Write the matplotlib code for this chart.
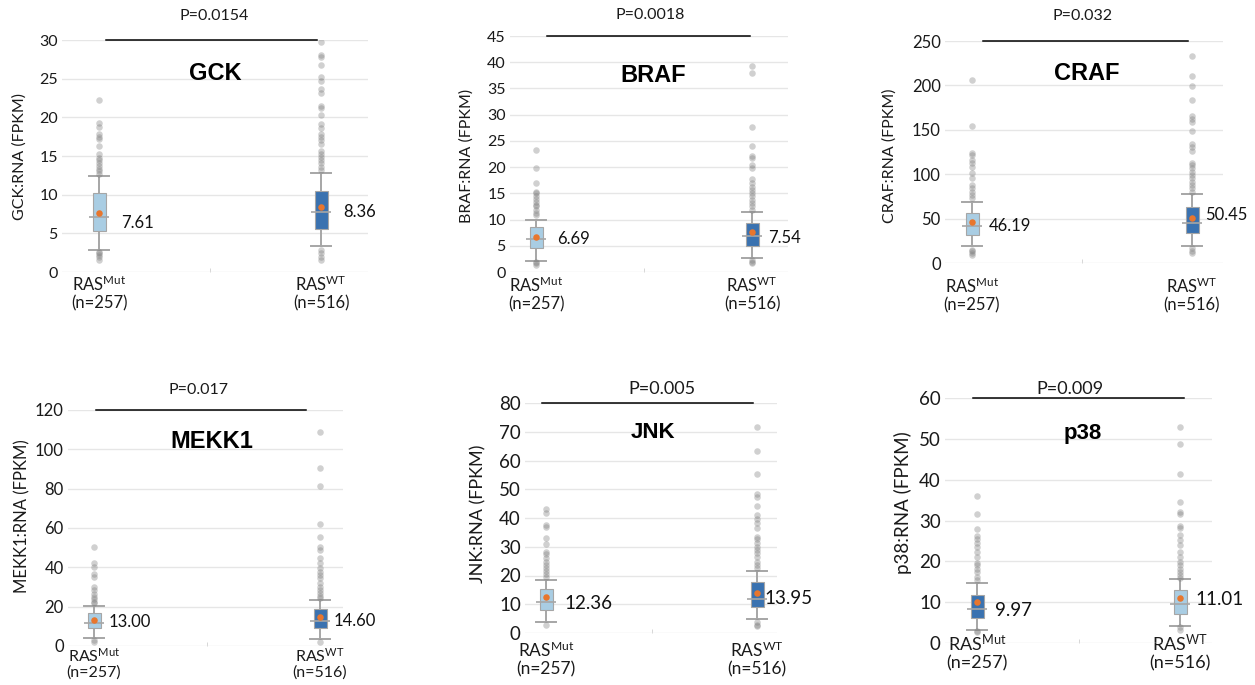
import matplotlib
matplotlib.use("Agg")
import matplotlib.pyplot as plt

plt.rcParams['font.family'] = ['Lato', 'DejaVu Sans']
plt.rcParams['mathtext.fontset'] = 'custom'
plt.rcParams['mathtext.rm'] = 'Lato'
plt.rcParams['mathtext.default'] = 'regular'

# chart data
genes = ['GCK', 'BRAF', 'CRAF', 'MEKK1', 'JNK', 'p38']
p_values = ['P=0.0154', 'P=0.0018', 'P=0.032', 'P=0.017', 'P=0.005', 'P=0.009']
groups = ['RAS$^{Mut}$\n(n=257)', 'RAS$^{WT}$\n(n=516)']
y_max = [30, 45, 250, 120, 80, 60]
y_step = [5, 5, 50, 20, 10, 10]

# [Mut, WT] per gene
means = [[7.61, 8.36], [6.69, 7.54], [46.19, 50.45], [13.00, 14.60], [12.36, 13.95], [9.97, 11.01]]
q1 = [[5.3, 5.6], [4.5, 5.0], [31.4, 33.7], [9.0, 9.0], [8.1, 8.9], [6.2, 7.2]]
medians = [[7.1, 7.8], [6.2, 6.9], [41.9, 44.9], [11.5, 12.7], [10.7, 11.8], [8.4, 9.5]]
q3 = [[10.2, 10.5], [8.65, 9.3], [56.0, 62.9], [16.6, 18.6], [15.4, 17.6], [11.7, 12.9]]
whis_lo = [[2.9, 3.3], [2.1, 2.7], [18.7, 18.7], [4.2, 3.4], [4.0, 4.8], [3.3, 4.1]]
whis_hi = [[12.4, 12.8], [9.9, 11.5], [68.5, 77.8], [20.3, 23.4], [18.5, 21.4], [14.6, 15.6]]

fliers_mut = [
    [22.3, 19.3, 18.7, 17.8, 17.4, 17.2, 16.3, 15.3, 14.8, 14.5, 14.1, 13.7, 13.3, 13.0, 12.7,
     2.6, 2.4, 2.2, 1.9, 1.6],
    [23.3, 19.8, 16.9, 15.3, 15.0, 14.5, 14.0, 13.4, 12.8, 12.5, 11.8, 11.2, 10.9,
     1.9, 1.65, 1.3],
    [205.8, 154.2, 124.3, 121.6, 116, 112.3, 108.5, 101, 95.4, 88, 84.2, 80.5, 76.7, 73,
     15, 13, 11.2, 9.4],
    [50.5, 42.4, 40.3, 36.6, 35.3, 30.2, 28.5, 26.4, 25.1, 23.7, 22.5, 21.7, 3.1, 2.2],
    [43.3, 41.6, 37.5, 37.0, 33.1, 30.9, 28.3, 27.5, 26.0, 24.8, 23.7, 22.5, 21.4, 20.6, 19.6, 2.9],
    [36.1, 31.6, 27.9, 26.3, 25.4, 24.4, 23.6, 22.3, 21.1, 19.6, 19.1, 18.2, 17.4, 16.2, 15.5,
     2.9, 2.6],
]
fliers_wt = [
    [29.8, 28.1, 27.8, 26.8, 25.2, 24.7, 23.6, 23.1, 21.5, 21.2, 20.3, 19.2, 18.6, 17.9, 17.5,
     17.1, 16.6, 15.6, 15.3, 14.9, 14.5, 14.1, 13.6, 13.2, 2.8, 2.4, 2.0, 1.6],
    [39.3, 38.0, 27.7, 24.1, 22.2, 21.8, 20.4, 19.9, 17.7, 16.9, 16.3, 15.6, 15.0, 14.4, 13.7,
     13.1, 12.5, 11.8, 2.3, 2.0, 1.65],
    [233, 210.7, 199.5, 183.4, 165.4, 162, 159, 148.6, 133.6, 130.2, 126.5, 113, 110.4, 106.7,
     102.9, 99.2, 95.4, 91.7, 88, 84.2, 80.5, 16.8, 13.1, 11.2],
    [109, 90.5, 81.5, 61.9, 55.3, 50.5, 48.8, 44.6, 42, 39.5, 37.8, 36.1, 34.4, 31.9, 30.2,
     28.5, 27.1, 25.4, 24.2, 2.2],
    [71.8, 63.2, 55.2, 48.3, 47.3, 44.1, 41.0, 39.8, 38.1, 36.4, 33.5, 32.6, 31.2, 30.0, 28.9,
     27.7, 26.3, 24.8, 23.7, 22.5, 4.0, 2.9, 2.3],
    [53, 48.7, 41.3, 34.5, 32.2, 31.6, 28.6, 28.1, 26.4, 25.2, 24.0, 22.3, 21.1, 19.9, 19.1,
     18.2, 17.4, 16.6, 16.0, 3.8, 3.3],
]

# layout (pixels in the 1255x685 canvas)
W, H = 1255, 685
ax_px = [(62, 368, 40, 272), (510, 788, 36, 272), (945, 1223, 41, 263),
         (68, 343, 410, 646), (525, 777, 403, 633), (945, 1212, 398, 643)]
box_px = [(99, 321), (536, 752), (972, 1192), (94, 320), (546, 757), (977, 1180)]
ylab_px = [(20, 156), (467, 156), (890, 156), (22, 516), (478, 514), (903, 503)]
title_px = [(215, 73), (653, 75), (1087, 74), (212, 442), (653, 433), (1083, 433)]
ptext_px = [(214, 16), (650, 15), (1083, 16), (199, 390), (662, 389), (1070, 389)]
pline_x = [(0.03, 0.98), (0.05, 0.99), (0.05, 0.98), (0.01, 0.94), (-0.02, 0.98), (-0.02, 1.02)]
label_y = [[6.55, 7.9], [6.5, 6.7], [43, 56], [13.2, 13.6], [10.7, 12.4], [8.4, 11.0]]
label_dx = [[22, 22], [21, 16], [17, 13], [15, 14], [18, 7], [18, 15]]
cat_pad = [3, 4, 14, 1, 8, -10]
tick_fs = [11.5, 11.5, 12, 12, 13.5, 13.5]
cat_fs = [12, 12, 12, 11.5, 12.5, 13]
ylab_fs = [11.5, 11.5, 11.5, 12, 13, 13.5]
val_fs = [12, 12, 12, 12, 13.5, 13.5]
p_fs = [11.5, 11.5, 11.5, 11.5, 13, 13]
title_fs = [17, 17, 17, 17, 16, 16]

light = '#a9cde3'
dark = '#3a72b0'
box_colors = [[light, dark]] * 5 + [[dark, light]]
edge = '#a6a6a6'

fig = plt.figure(figsize=(W / 100, H / 100), dpi=100)

for i, gene in enumerate(genes):
    L, R, T, B = ax_px[i]
    c1, c2 = box_px[i]
    unit = c2 - c1
    ax = fig.add_axes([L / W, 1 - B / H, (R - L) / W, (B - T) / H])
    ax.set_xlim((L - c1) / unit, (R - c1) / unit)
    ax.set_ylim(0, y_max[i])

    stats = []
    for g in range(2):
        stats.append(dict(med=medians[i][g], q1=q1[i][g], q3=q3[i][g],
                          whislo=whis_lo[i][g], whishi=whis_hi[i][g], fliers=[]))
    bw = 13 / unit
    cw = 20 / unit
    bp = ax.bxp(stats, positions=[0, 1], widths=bw, capwidths=cw, patch_artist=True,
                showfliers=False,
                boxprops=dict(edgecolor=edge, linewidth=0.8),
                whiskerprops=dict(color=edge, linewidth=1.4),
                capprops=dict(color=edge, linewidth=1.4),
                medianprops=dict(linewidth=0))
    for patch, col in zip(bp['boxes'], box_colors[i]):
        patch.set_facecolor(col)
        patch.set_zorder(3)
    for g in range(2):
        ax.hlines(medians[i][g], g - cw / 2, g + cw / 2, color=edge, lw=1.2, zorder=4)

    # outliers
    ax.scatter([0] * len(fliers_mut[i]), fliers_mut[i], s=22, color='#7a7a7a', alpha=0.35,
               linewidths=0, zorder=2)
    ax.scatter([1] * len(fliers_wt[i]), fliers_wt[i], s=22, color='#7a7a7a', alpha=0.35,
               linewidths=0, zorder=2)

    # means
    ax.scatter([0, 1], means[i], s=22, color='#e8762d', zorder=5, linewidths=0)
    for g in range(2):
        ax.annotate('%.2f' % means[i][g], xy=(g, label_y[i][g]),
                    xytext=(label_dx[i][g] * 0.72, 0), textcoords='offset points',
                    ha='left', va='center_baseline', fontsize=val_fs[i], color='#111111')

    # significance line
    ax.plot(pline_x[i], [y_max[i], y_max[i]], color='black', lw=1.1, clip_on=False, zorder=6)

    ax.set_yticks(range(0, y_max[i] + 1, y_step[i]))
    ax.yaxis.grid(True, color='#e6e6e6', lw=1)
    ax.set_axisbelow(True)
    ax.set_xticks([0, 1])
    ax.set_xticklabels(groups, fontsize=cat_fs[i], linespacing=1.05)
    ax.set_xticks([0.5], minor=True)
    ax.tick_params(axis='x', which='major', length=0, pad=cat_pad[i] * 0.72, colors='#1a1a1a')
    ax.tick_params(axis='x', which='minor', length=3, color='#d0d0d0', direction='in')
    ax.tick_params(axis='y', length=0, pad=3, labelsize=tick_fs[i], colors='#1a1a1a')
    for s in ax.spines.values():
        s.set_visible(False)

    fig.text(ylab_px[i][0] / W, 1 - ylab_px[i][1] / H, gene + ':RNA (FPKM)', rotation=90,
             ha='center', va='center', fontsize=ylab_fs[i], color='#1a1a1a')
    fig.text(title_px[i][0] / W, 1 - title_px[i][1] / H, gene, ha='center', va='center',
             fontsize=title_fs[i], fontweight='bold', family='Liberation Sans')
    fig.text(ptext_px[i][0] / W, 1 - ptext_px[i][1] / H, p_values[i], ha='center', va='center',
             fontsize=p_fs[i], color='#1a1a1a')

fig.savefig('out.png', dpi=100)
